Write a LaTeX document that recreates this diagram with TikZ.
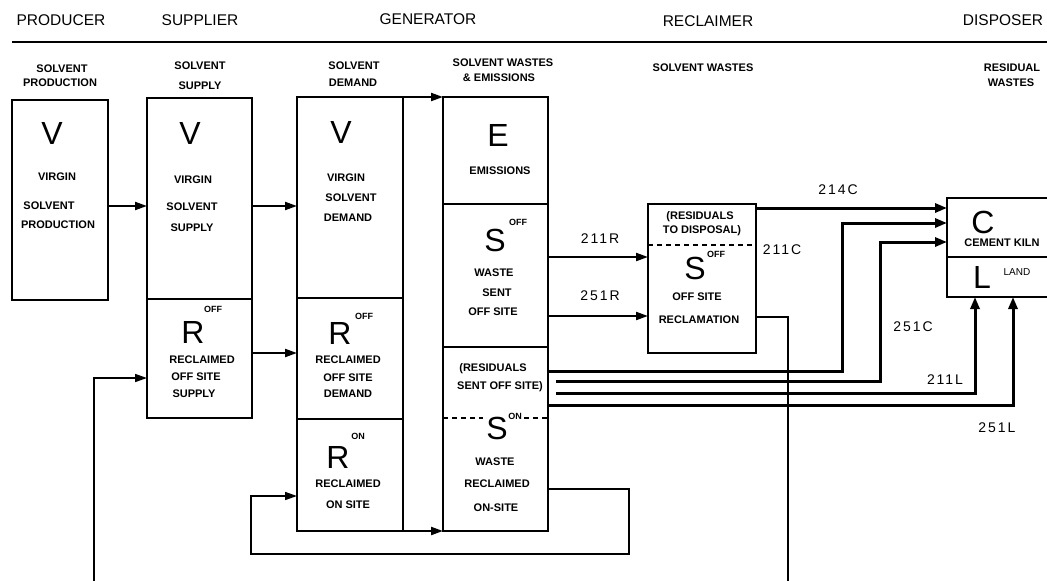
\documentclass[tikz,border=0pt]{standalone}
\usepackage{fontspec}
\setmainfont{Liberation Sans}
\newfontfamily\numfont[LetterSpace=14]{Liberation Sans}
\usetikzlibrary{arrows.meta,calc}
\begin{document}
\begin{tikzpicture}[x=1pt,y=-1pt,
  box/.style={draw,line width=1.8pt,inner sep=0pt,outer sep=0pt},
  hdr/.style={inner sep=0pt,font=\fontsize{15.5}{15.5}\selectfont},
  sub/.style={inner sep=0pt,font=\bfseries\fontsize{11}{11}\selectfont},
  big/.style={inner sep=0pt,font=\fontsize{32}{32}\selectfont},
  supr/.style={inner sep=0pt,font=\bfseries\fontsize{9}{9}\selectfont},
  num/.style={inner sep=0pt,font=\numfont\fontsize{14}{14}\selectfont},
  tip/.style={-{Triangle[length=12pt,width=8pt]}},
  flow/.style={line width=2.1pt,tip},
  resarrow/.style={line width=3pt,-{Triangle[length=12pt,width=9pt]}},
  loopline/.style={line width=1.6pt},
  dsh/.style={line width=1.4pt,dash pattern=on 5pt off 4pt}]
\clip (0,0) rectangle (1047,581);
\fill[white] (0,0) rectangle (1047,581);

% header
\node[hdr] (h1) at (61,20) {PRODUCER};
\node[hdr] (h2) at (200,20) {SUPPLIER};
\node[hdr] (h3) at (428,19) {GENERATOR};
\node[hdr] (h4) at (708,21) {RECLAIMER};
\node[hdr] (h5) at (1003,20) {DISPOSER};
\draw[line width=1.5pt] (12,42) -- (1047,42);

% sub headers
\node[sub] (s1) at (62,69) {SOLVENT};
\node[sub] (s2) at (60,83) {PRODUCTION};
\node[sub] (s3) at (200,66) {SOLVENT};
\node[sub] (s4) at (200,86) {SUPPLY};
\node[sub] (s5) at (354,66) {SOLVENT};
\node[sub] (s6) at (353,83) {DEMAND};
\node[sub] (s7) at (503,63) {SOLVENT WASTES};
\node[sub] (s8) at (499,78) {\& EMISSIONS};
\node[sub] (s9) at (703,68) {SOLVENT WASTES};
\node[sub] (s10) at (1012,68) {RESIDUAL};
\node[sub] (s11) at (1011,83) {WASTES};

% boxes
\node[box,minimum width=96pt,minimum height=200pt] (prod) at (60,200) {};
\node[box,minimum width=105pt,minimum height=201pt] (supV) at (199.5,198.5) {};
\node[box,minimum width=105pt,minimum height=119pt] (supR) at (199.5,358.5) {};
\node[box,minimum width=106pt,minimum height=201pt] (demV) at (350,197.5) {};
\node[box,minimum width=106pt,minimum height=121pt] (demRoff) at (350,358.5) {};
\node[box,minimum width=106pt,minimum height=112pt] (demRon) at (350,475) {};
\node[box,minimum width=105pt,minimum height=107pt] (wE) at (495.5,150.5) {};
\node[box,minimum width=105pt,minimum height=143pt] (wS) at (495.5,275.5) {};
\node[box,minimum width=105pt,minimum height=184pt] (wR) at (495.5,439) {};
\node[box,minimum width=108pt,minimum height=149pt] (recl) at (702,278.5) {};
\node[box,minimum width=110pt,minimum height=59pt] (kiln) at (1002,227.5) {};
\node[box,minimum width=110pt,minimum height=40pt] (land) at (1002,277) {};

% dashed separators
\draw[dsh] (wR.west |- 0,418) -- (483,418);
\draw[dsh] (524,418) -- (wR.east |- 0,418);
\draw[dsh] (recl.west |- 0,245) -- (recl.east |- 0,245);

% producer text
\node[big] (pv) at (52,133) {V};
\node[sub] (p1) at (57,177) {VIRGIN};
\node[sub] (p2) at (49,206) {SOLVENT};
\node[sub] (p3) at (58,225) {PRODUCTION};

% supplier text
\node[big] (sv) at (190,133) {V};
\node[sub] (sa) at (193,180) {VIRGIN};
\node[sub] (sb) at (192,207) {SOLVENT};
\node[sub] (sc) at (192,228) {SUPPLY};
\node[big] (sr) at (193,332) {R};
\node[supr] (sro) at (213,309) {OFF};
\node[sub] (sd) at (202,360) {RECLAIMED};
\node[sub] (se) at (196,377) {OFF SITE};
\node[sub] (sf) at (194,394) {SUPPLY};

% demand text
\node[big] (dv) at (341,132) {V};
\node[sub] (da) at (346,178) {VIRGIN};
\node[sub] (db) at (351,198) {SOLVENT};
\node[sub] (dc) at (348,218) {DEMAND};
\node[big] (dr) at (340,333) {R};
\node[supr] (dro) at (364,316) {OFF};
\node[sub] (dd) at (348,360) {RECLAIMED};
\node[sub] (de) at (348,378) {OFF SITE};
\node[sub] (df) at (348,394) {DEMAND};
\node[big] (drn) at (338,457) {R};
\node[supr] (drno) at (358,436) {ON};
\node[sub] (dg) at (348,484) {RECLAIMED};
\node[sub] (dh) at (348,505) {ON SITE};

% waste text
\node[big] (we) at (498,135) {E};
\node[sub] (wa) at (500,171) {EMISSIONS};
\node[big] (ws) at (495,240) {S};
\node[supr] (wso) at (518,222) {OFF};
\node[sub] (wb) at (494,273) {WASTE};
\node[sub] (wc) at (497,293) {SENT};
\node[sub] (wd) at (493,312) {OFF SITE};
\node[sub] (wf) at (493,369) {(RESIDUALS};
\node[sub] (wg) at (500,387) {SENT OFF SITE)};
\node[big] (wsn) at (497,428) {S};
\node[supr] (wsno) at (515,416) {ON};
\node[sub] (wh) at (495,462) {WASTE};
\node[sub] (wi) at (497,484) {RECLAIMED};
\node[sub] (wj) at (496,508) {ON-SITE};

% reclaimer text
\node[sub] (ra) at (700,217) {(RESIDUALS};
\node[sub] (rb) at (702,231) {TO DISPOSAL)};
\node[big] (rs) at (695,268) {S};
\node[supr] (rso) at (716,254) {OFF};
\node[sub] (rc) at (697,297) {OFF SITE};
\node[sub] (rd) at (699,320) {RECLAMATION};

% disposer text
\node[big] (kc) at (983,222) {C};
\node[sub] (ka) at (1002,243) {CEMENT KILN};
\node[big] (kl) at (982,277) {L};
\node[sub,font=\fontsize{10}{10}\selectfont] (kb) at (1017,272) {LAND};

% flows
\draw[flow] (prod.east |- 0,206) -- (supV.west |- 0,206);
\draw[flow] (supV.east |- 0,206) -- (demV.west |- 0,206);
\draw[flow] (supR.east |- 0,353) -- (demRoff.west |- 0,353);
\coordinate (fbA) at (94,582);
\draw[loopline,tip] (fbA) |- (supR.west |- 0,378);
\draw[flow] (demV.north east) -- (wE.north west);
\draw[flow] (demRon.south east) -- (wR.south west);
\draw[loopline,tip] (wR.east |- 0,489) -- (629,489) -- (629,554) -- (251,554) -- (251,496) -- (demRon.west |- 0,496);
\draw[flow] (wS.east |- 0,257) -- (recl.west |- 0,257);
\draw[flow] (wS.east |- 0,316) -- (recl.west |- 0,316);
\coordinate (fbB) at (788,582);
\draw[loopline] (recl.east |- 0,317) -| (fbB);

% residual flows
\draw[resarrow] (recl.east |- 0,208) -- (kiln.west |- 0,208);
\draw[resarrow] (wR.east |- 0,371) -- (842,371) -- (842,223) -- (kiln.west |- 0,223);
\draw[resarrow] ($(wR.east |- 0,381)+(8,0)$) -- (880,381) -- (880,242) -- (kiln.west |- 0,242);
\draw[resarrow] ($(wR.east |- 0,393)+(8,0)$) -- (975,393) -- (land.south -| 975,0);
\draw[resarrow] (wR.east |- 0,405) -- (1013,405) -- (land.south -| 1013,0);

% flow labels
\node[num] (l1) at (838,190) {214C};
\node[num] (l2) at (782,250) {211C};
\node[num] (l3) at (913,327) {251C};
\node[num] (l4) at (945,380) {211L};
\node[num] (l5) at (997,428) {251L};
\node[num] (l6) at (600,239) {211R};
\node[num] (l7) at (600,296) {251R};
\end{tikzpicture}
\end{document}
